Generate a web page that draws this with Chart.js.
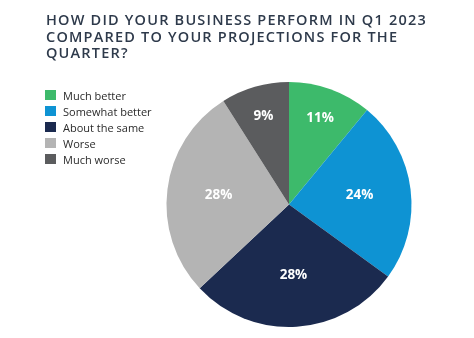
<!DOCTYPE html>
<html>
<head>
<meta charset="utf-8">
<script src="https://cdn.jsdelivr.net/npm/chart.js@4"></script>
<style>
  body { margin: 0; background: #fff; }
  #wrap { position: relative; width: 474px; height: 338px; }
  #chart { position: absolute; left: 0; top: 0; }
  #title {
    position: absolute; left: 46px; top: 12px; margin: 0;
    font: 600 14.5px/16.6px "Open Sans", sans-serif; letter-spacing: 1.2px;
    color: #2e3a4b;
  }
  #legend { position: absolute; left: 45px; top: 87px; margin: 0; padding: 0; list-style: none; }
  #legend li {
    height: 16px; display: flex; align-items: center;
    font: 11px "Open Sans", sans-serif; color: #2b2b2b;
  }
  #legend span { width: 11px; height: 10px; margin-right: 7px; }
</style>
</head>
<body>
<div id="wrap">
  <canvas id="chart" width="474" height="338"></canvas>
  <h3 id="title">HOW DID YOUR BUSINESS PERFORM IN Q1 2023<br>COMPARED TO YOUR PROJECTIONS FOR THE<br>QUARTER?</h3>
  <ul id="legend"></ul>
</div>
<script>
const categories = ["Much better", "Somewhat better", "About the same", "Worse", "Much worse"];
const shares = [11, 24, 28, 28, 9];
const colors = ["#3dba6b", "#0e93d3", "#1b2a4f", "#b4b4b4", "#5b5c5e"];

// Legend built from the category list
function populateLegend() {
  const legend = document.getElementById("legend");
  categories.forEach((name, i) => {
    const item = document.createElement("li");
    item.innerHTML = `<span style="background:${colors[i]}"></span>${name}`;
    legend.appendChild(item);
  });
}

// Percent labels inside each slice (small slices get pushed out a bit)
const sliceLabels = {
  id: "sliceLabels",
  afterDatasetsDraw(chart) {
    const ctx = chart.ctx;
    const meta = chart.getDatasetMeta(0);
    ctx.save();
    ctx.font = "bold 13.5px 'Open Sans', sans-serif";
    ctx.fillStyle = "#fff";
    ctx.textAlign = "center";
    ctx.textBaseline = "middle";
    meta.data.forEach((arc, i) => {
      const mid = (arc.startAngle + arc.endAngle) / 2;
      const r = arc.outerRadius * (shares[i] < 15 ? 0.75 : 0.58);
      ctx.fillText(shares[i] + "%", arc.x + Math.cos(mid) * r, arc.y + Math.sin(mid) * r);
    });
    ctx.restore();
  },
};

populateLegend();

new Chart(document.getElementById("chart"), {
  type: "pie",
  data: {
    labels: categories,
    datasets: [
      {
        data: shares,
        backgroundColor: colors,
        borderWidth: 0,
      },
    ],
  },
  options: {
    responsive: false,
    animation: false,
    layout: { padding: { left: 166, right: 62, top: 82, bottom: 11 } },
    plugins: {
      legend: { display: false },
      tooltip: { enabled: false },
    },
  },
  plugins: [sliceLabels],
});
</script>
</body>
</html>
